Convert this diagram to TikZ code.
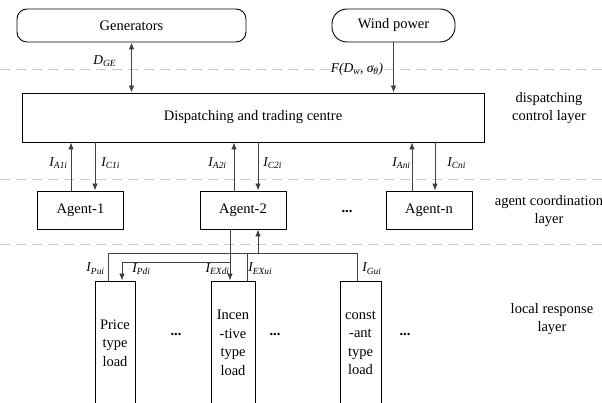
\documentclass[tikz,border=0pt]{standalone}
\usepackage{fontspec}
\setmainfont{Liberation Serif}
\usetikzlibrary{arrows.meta,positioning}

\newcommand{\cur}[1]{\textit{I}\textsubscript{\textit{#1}}}

\tikzset{
  blk/.style={draw, line width=0.9pt, inner sep=0pt, align=center},
  src/.style={blk, minimum height=33pt},
  agentbox/.style={blk, minimum width=86pt, minimum height=38pt},
  loadbox/.style={blk, minimum height=124pt},
  layer/.style={draw=black!20, line width=0.9pt, dash pattern=on 10pt off 6pt},
  sig/.style={line width=0.8pt, draw=black!75},
  lbl/.style={inner sep=0pt, font=\fontsize{13.5}{16}\selectfont\itshape},
  dots/.style={font=\fontsize{14.5}{18.5}\selectfont\bfseries},
}

\begin{document}
\begin{tikzpicture}[x=1pt, y=-1pt, font=\fontsize{14.5}{18.5}\selectfont,
    >={Latex[length=7pt,width=5.5pt]}]
  \useasboundingbox (0,0) rectangle (602,403);
  \clip (0,0) rectangle (602,403);

  % layer borders
  \foreach \y in {69,179,244}
    \draw[layer] (0,\y) -- (602,\y);

  % dispatching control layer
  \node[src, rounded corners=10pt, minimum width=229pt] (gen) at (131.5,25.5) {Generators};
  \node[src, rounded corners=15pt, minimum width=123pt] (wind) at (393.5,25.5) {Wind power};
  \node[blk, minimum width=462pt, minimum height=49pt] (centre) at (253,117.5) {Dispatching and trading centre};
  \node[align=center] (lay1) at (549,108) {dispatching\\control layer};

  \draw[sig, <->] (gen.south) -- (gen.south |- centre.north)
    node[lbl, pos=0.37, left=15pt] (dge) {\textit{D}\textsubscript{\textit{GE}}};
  \draw[sig, ->] (wind.south) -- (wind.south |- centre.north)
    node[lbl, pos=0.53, left=10pt] (fw) {\textit{F}(\textit{D}\textsubscript{\textit{w}}, \textit{σ}\textsubscript{\textit{θ}})};

  % agent coordination layer
  \node[agentbox] (agent1) at (80.5,210) {Agent-1};
  \node[agentbox] (agent2) at (243,210) {Agent-2};
  \node[agentbox] (agentn) at (429,210) {Agent-n};
  \node[dots] (dots1) at (347,212) {...};
  \node[align=center] (lay2) at (549,211) {agent coordination\\layer};

  \foreach \a/\u/\d/\n/\gl/\gr in {agent1/-9.5/14.5/1/3/6, agent2/-9/15/2/7/5, agentn/-17/6/n/1/12} {
    \draw[sig, ->] ([xshift=\u pt]\a.north) coordinate (up) -- (up |- centre.south)
      node[lbl, pos=0.57, left=\gl pt] {\cur{A\n i}};
    \draw[sig, <-] ([xshift=\d pt]\a.north) coordinate (dn) -- (dn |- centre.south)
      node[lbl, pos=0.57, right=\gr pt] {\cur{C\n i}};
  }

  % local response layer
  \node[loadbox, minimum width=40pt] (price) at (115,343) {Price\\type\\load};
  \node[loadbox, minimum width=44pt] (incen) at (233,343) {Incen\\-tive\\type\\load};
  \node[loadbox, minimum width=41pt] (const) at (360.5,343) {const\\-ant\\type\\load};
  \node[dots] (dots2) at (176,335) {...};
  \node[dots] (dots3) at (275,335) {...};
  \node[dots] (dots4) at (405,335) {...};
  \node[align=center] (lay3) at (552,319) {local response\\layer};

  \coordinate (obus) at (0,253);
  \coordinate (ibus) at (0,262);
  \coordinate (pu) at ([xshift=-7pt]price.north);
  \coordinate (pd) at ([xshift=7pt]price.north);
  \coordinate (xu) at ([xshift=14pt]incen.north);
  \coordinate (gu) at ([xshift=-3.5pt]const.north);
  \coordinate (au) at ([xshift=15pt]agent2.south);
  \coordinate (ad) at ([xshift=-13pt]agent2.south);

  \draw[sig] (pu) -- (pu |- obus) node[lbl, pos=0.43, left=3pt] {\cur{Pui}}
    -- (gu |- obus) -- (gu) node[lbl, pos=0.57, right=5pt] {\cur{Gui}};
  \draw[sig] (xu |- obus) -- (xu) node[lbl, pos=0.57, right=1pt] {\cur{EXui}};
  \draw[sig, ->] (au |- obus) -- (au);
  \draw[sig, ->] (ad) -- (ad |- incen.north) node[lbl, pos=0.77, left=0pt] {\cur{EXdi}};
  \draw[sig, ->] (ad |- ibus) -- (pd |- ibus) -- (pd) node[lbl, pos=0.37, right=10pt] {\cur{Pdi}};
\end{tikzpicture}
\end{document}
